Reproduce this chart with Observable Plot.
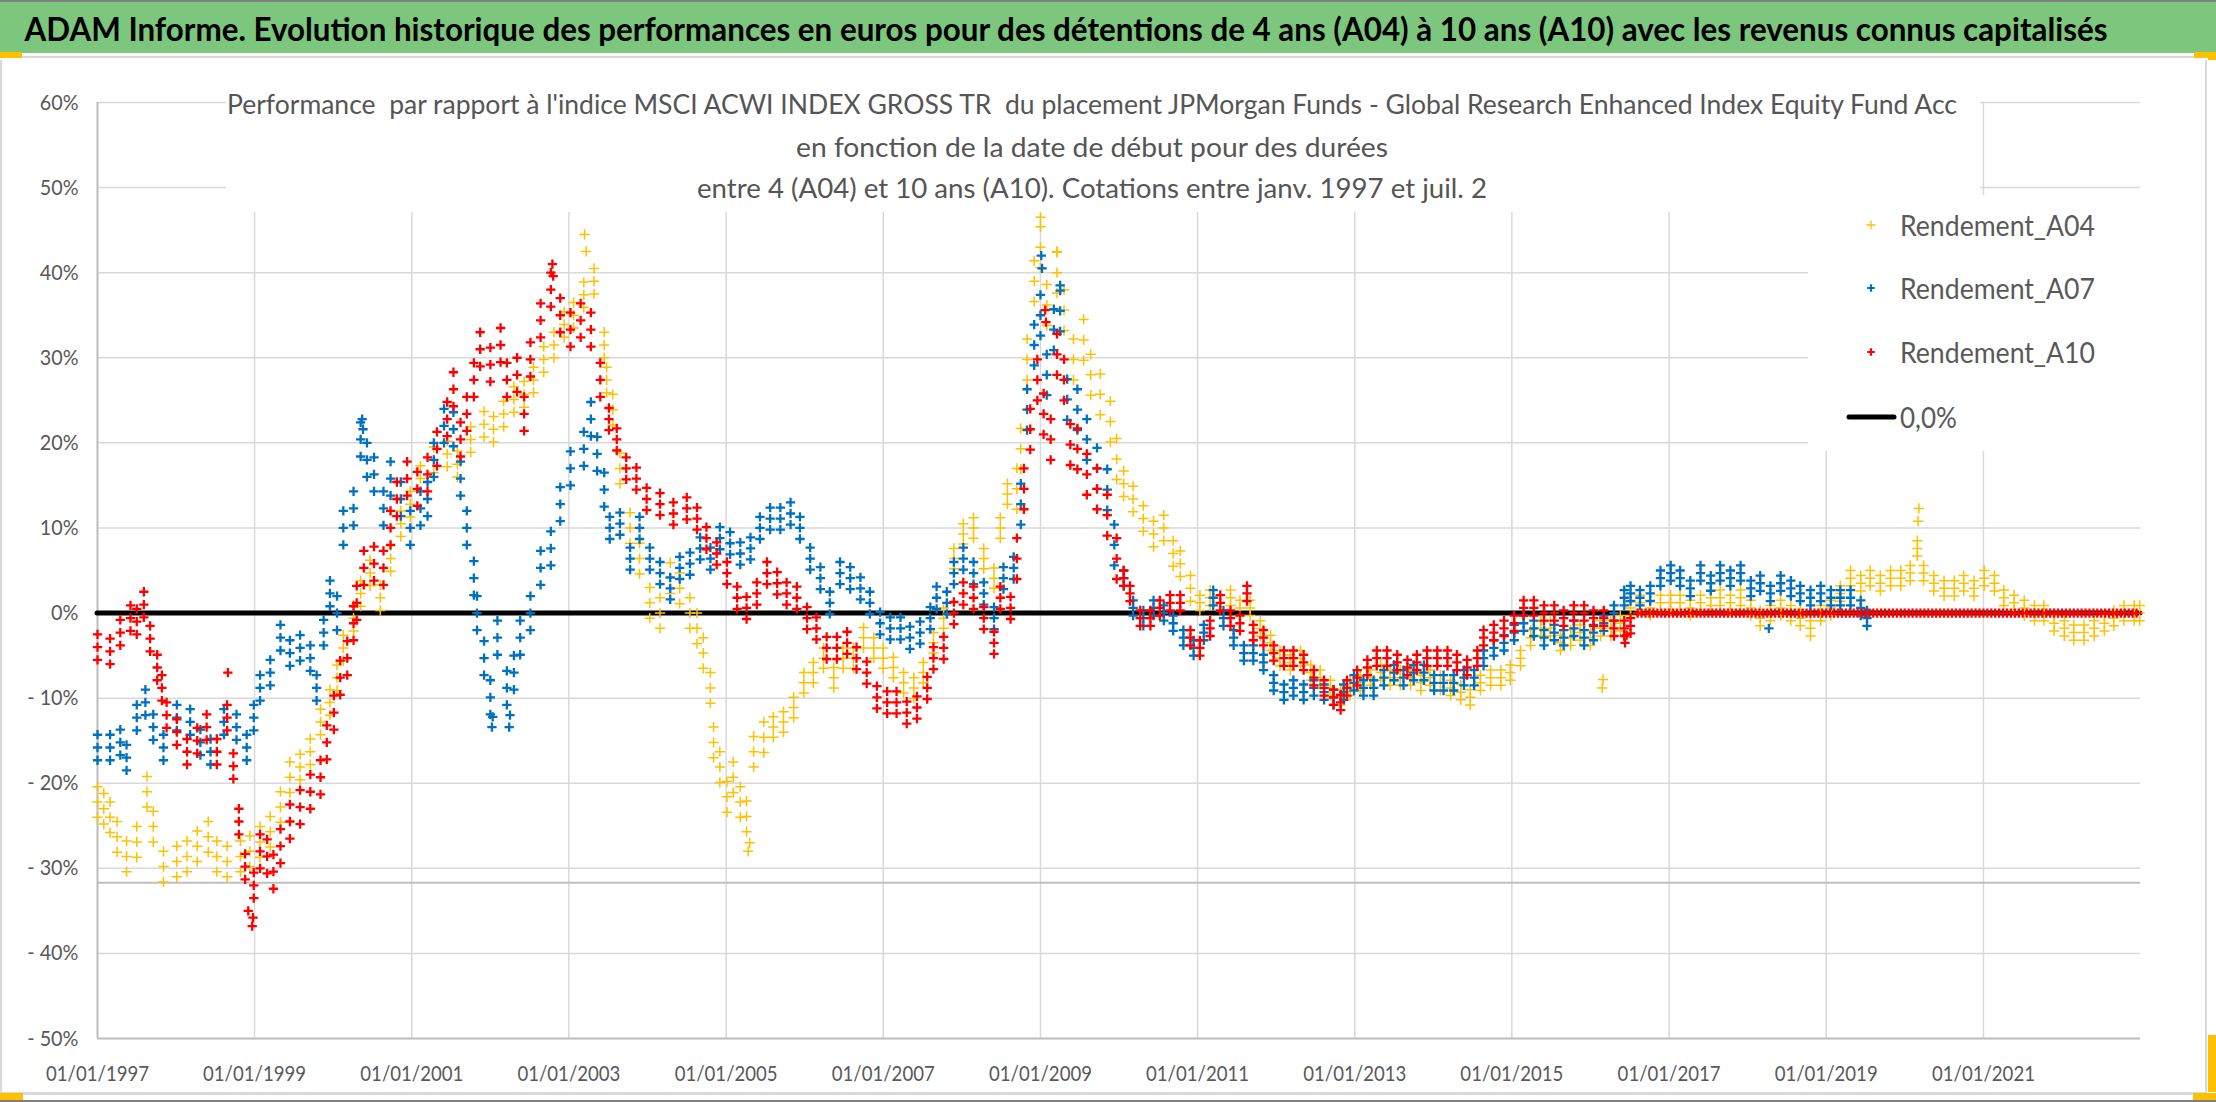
<!DOCTYPE html>
<html><head><meta charset="utf-8">
<script src="https://cdn.jsdelivr.net/npm/d3@7"></script>
<script src="https://cdn.jsdelivr.net/npm/@observablehq/plot@0.6"></script>
<style>
html,body{margin:0;padding:0;background:#fff;}
#page{position:relative;width:2216px;height:1102px;overflow:hidden;background:#fff;}
#page > *{position:absolute;left:0;}
</style></head><body><div id="page"></div>
<script>
// ---------- texts ----------
const titleText = "ADAM Informe. Evolution historique des performances en euros pour des détentions de 4 ans (A04) à 10 ans (A10) avec les revenus connus capitalisés";
const subtitleLines = [
  "Performance  par rapport à l'indice MSCI ACWI INDEX GROSS TR  du placement JPMorgan Funds - Global Research Enhanced Index Equity Fund Acc",
  "en fonction de la date de début pour des durées",
  "entre 4 (A04) et 10 ans (A10). Cotations entre janv. 1997 et juil. 2"
];
const seriesNames = ["Rendement_A04", "Rendement_A07", "Rendement_A10"];
const seriesColors = ["#FFC000", "#0070C0", "#FF0000"];
const zeroLabel = "0,0%";

// ---------- axes ----------
const xDomainYears = [1997, 2023];
const xTickYears = [1997, 1999, 2001, 2003, 2005, 2007, 2009, 2011, 2013, 2015, 2017, 2019, 2021];
const yTicks = [-0.5, -0.4, -0.3, -0.2, -0.1, 0, 0.1, 0.2, 0.3, 0.4, 0.5, 0.6];
const zeroLine = [0];
const extraAxisLines = [-0.5, -0.317];

// ---------- data: [decimal year, performance %] (centre of the daily cloud) ----------
const a04 = [
[1997.00,-22.2],[1997.08,-23.0],[1997.16,-24.0],[1997.25,-26.3],[1997.37,-28.6],[1997.50,-26.9],[1997.63,-21.0],[1997.71,-25.1],[1997.84,-29.8],
[1998.01,-29.2],[1998.14,-28.6],[1998.27,-27.4],[1998.41,-26.3],[1998.52,-28.6],[1998.65,-29.2],[1998.82,-28.6],[1998.94,-28.0],
[1999.07,-26.9],[1999.20,-25.7],[1999.33,-22.8],[1999.45,-19.3],[1999.58,-18.1],[1999.71,-16.3],[1999.84,-12.8],[1999.96,-10.5],
[2000.05,-7.6],[2000.13,-4.1],[2000.26,-0.6],[2000.35,2.3],[2000.47,4.7],[2000.60,1.8],[2000.73,6.4],[2000.86,10.5],[2000.98,12.8],
[2001.11,15.8],[2001.28,18.0],[2001.45,18.7],[2001.58,17.5],[2001.75,20.4],[2001.92,22.2],
[2002.04,21.6],[2002.17,23.4],[2002.30,25.1],[2002.43,25.7],[2002.55,27.4],[2002.68,29.8],[2002.81,31.5],[2002.94,33.9],
[2003.06,35.0],[2003.19,37.4],[2003.32,39.0],[2003.45,31.5],[2003.48,27.4],[2003.56,23.9],[2003.65,17.0],[2003.78,10.0],[2003.90,6.4],
[2004.03,1.2],[2004.16,0.0],[2004.29,4.1],[2004.41,2.9],[2004.54,0.0],[2004.63,-1.8],[2004.71,-4.7],[2004.80,-8.8],[2004.84,-15.2],[2004.92,-18.1],
[2005.01,-21.6],[2005.09,-19.3],[2005.18,-22.2],[2005.26,-23.9],[2005.35,-16.3],[2005.48,-14.6],[2005.60,-13.4],[2005.73,-12.8],[2005.86,-11.1],[2005.99,-8.2],
[2006.11,-7.0],[2006.24,-5.3],[2006.37,-7.6],[2006.49,-5.3],[2006.62,-5.3],[2006.75,-2.9],[2006.88,-4.1],
[2007.00,-5.3],[2007.13,-6.4],[2007.26,-8.2],[2007.39,-8.8],[2007.51,-7.0],[2007.64,-3.5],[2007.77,-0.6],[2007.90,6.4],
[2008.02,9.3],[2008.15,10.0],[2008.28,6.4],[2008.41,4.1],[2008.49,10.0],[2008.58,14.0],[2008.70,14.6],[2008.75,19.3],[2008.83,29.8],[2008.92,39.0],
[2009.00,43.0],[2009.08,36.2],[2009.21,40.0],[2009.30,35.6],[2009.42,29.8],[2009.55,32.1],[2009.64,28.0],[2009.76,25.7],[2009.89,22.5],[2009.97,18.1],
[2010.06,15.2],[2010.18,13.4],[2010.31,11.1],[2010.44,9.3],[2010.57,10.0],[2010.69,7.0],[2010.78,5.8],[2010.91,2.9],
[2011.03,1.2],[2011.16,1.8],[2011.29,1.2],[2011.42,1.8],[2011.54,0.6],[2011.67,0.6],[2011.80,-1.8],[2011.93,-3.5],
[2012.05,-5.3],[2012.18,-5.8],[2012.31,-5.3],[2012.44,-7.0],[2012.56,-7.6],[2012.69,-8.8],[2012.82,-9.9],[2012.94,-8.8],
[2013.07,-8.2],[2013.20,-7.6],[2013.33,-7.0],[2013.45,-7.6],[2013.58,-7.6],[2013.71,-7.6],[2013.84,-8.2],[2013.96,-7.6],
[2014.09,-8.2],[2014.22,-8.8],[2014.35,-9.3],[2014.47,-9.9],[2014.60,-8.2],[2014.73,-7.6],[2014.86,-7.6],[2014.98,-7.0],
[2015.11,-5.3],[2015.24,-2.9],[2015.37,-1.8],[2015.49,-1.8],[2015.62,-3.5],[2015.75,-2.9],[2015.87,-2.3],
[2016.00,-2.9],[2016.13,-1.8],[2016.26,-1.8],[2016.38,-1.2],[2016.51,0.6],[2016.63,1.2],[2016.76,0.6],[2016.89,1.2],
[2017.02,1.2],[2017.14,1.2],[2017.27,0.6],[2017.40,1.2],[2017.53,1.8],[2017.65,1.8],[2017.78,1.2],[2017.91,1.8],
[2018.04,0.6],[2018.16,-0.6],[2018.29,0.0],[2018.42,0.6],[2018.55,0.0],[2018.67,-0.6],[2018.80,-1.8],[2018.93,0.0],
[2019.06,0.6],[2019.18,2.3],[2019.31,4.1],[2019.44,3.5],[2019.56,4.1],[2019.69,3.5],[2019.82,4.1],[2019.95,4.1],
[2020.07,4.7],[2020.16,7.6],[2020.24,4.7],[2020.37,3.5],[2020.50,2.9],[2020.63,2.9],[2020.75,3.5],[2020.88,2.9],
[2021.01,4.1],[2021.14,3.5],[2021.26,1.8],[2021.39,1.2],[2021.52,0.6],[2021.65,0.0],[2021.77,0.0],[2021.90,-1.2],
[2022.03,-1.8],[2022.15,-2.3],[2022.28,-2.3],[2022.41,-1.8],[2022.54,-1.2],[2022.66,-0.6],[2022.79,0.0],[2022.92,0.0],[2022.99,0.0]
];
// isolated outlying days (single markers)
const a04Spikes = [[2003.20,44.5],[2003.22,42.5],[2005.28,-28.0],[2005.30,-27.0],[2009.00,46.5],[2009.21,42.5],[2016.15,-8.8],[2016.16,-7.8],[2020.18,12.3],[2020.17,10.8]];
const a07 = [
[1997.00,-15.8],[1997.16,-15.8],[1997.29,-15.2],[1997.37,-17.0],[1997.50,-12.3],[1997.61,-10.5],[1997.71,-13.4],[1997.84,-15.8],
[1998.01,-12.3],[1998.18,-12.8],[1998.31,-15.2],[1998.44,-16.3],[1998.61,-12.8],[1998.77,-13.4],[1998.90,-15.8],[1998.99,-12.3],
[1999.07,-8.8],[1999.20,-7.0],[1999.33,-2.9],[1999.45,-4.7],[1999.58,-4.1],[1999.71,-5.3],[1999.79,-8.8],[1999.88,-2.3],[1999.96,2.3],
[2000.05,0.0],[2000.13,10.0],[2000.26,12.3],[2000.35,20.4],[2000.43,18.0],[2000.52,16.3],[2000.64,12.3],[2000.73,15.8],[2000.86,13.4],[2000.98,10.0],
[2001.11,12.3],[2001.20,13.4],[2001.28,18.0],[2001.41,22.0],[2001.53,21.6],[2001.62,15.8],[2001.70,10.0],[2001.79,4.1],[2001.83,0.0],[2001.92,-5.3],
[2002.00,-9.9],[2002.09,-2.9],[2002.21,-8.8],[2002.30,-7.0],[2002.38,-2.9],[2002.51,0.0],[2002.64,5.3],[2002.77,7.6],[2002.89,12.8],
[2003.02,17.0],[2003.19,19.3],[2003.28,22.8],[2003.36,18.7],[2003.45,14.5],[2003.52,10.0],[2003.65,10.5],[2003.78,6.4],[2003.90,10.0],
[2004.03,6.4],[2004.16,4.7],[2004.29,2.9],[2004.41,5.3],[2004.54,5.8],[2004.67,7.6],[2004.80,6.4],[2004.92,8.8],
[2005.05,8.2],[2005.18,7.0],[2005.31,7.6],[2005.43,10.0],[2005.56,11.1],[2005.69,11.1],[2005.82,11.7],[2005.94,10.0],
[2006.07,6.4],[2006.20,4.1],[2006.32,1.2],[2006.45,4.7],[2006.58,4.1],[2006.71,2.9],[2006.83,1.2],[2006.96,-1.2],
[2007.09,-1.8],[2007.22,-1.8],[2007.34,-2.9],[2007.47,-2.3],[2007.60,-0.6],[2007.68,1.8],[2007.81,1.2],[2007.90,4.7],
[2008.02,6.4],[2008.15,4.7],[2008.28,2.3],[2008.41,-0.6],[2008.53,4.1],[2008.66,5.3],[2008.75,12.8],[2008.83,23.9],[2008.92,31.5],
[2009.00,35.0],[2009.08,28.0],[2009.17,33.3],[2009.25,35.5],[2009.34,25.1],[2009.47,23.9],[2009.59,20.4],[2009.72,17.0],[2009.85,14.5],[2009.94,8.0],
[2010.06,4.1],[2010.18,0.6],[2010.31,-0.6],[2010.44,0.6],[2010.57,0.0],[2010.69,-1.2],[2010.82,-2.9],[2010.95,-4.1],
[2011.08,-2.3],[2011.20,1.8],[2011.33,-0.6],[2011.46,-2.9],[2011.59,-4.7],[2011.71,-4.7],[2011.84,-5.8],[2011.97,-8.2],
[2012.10,-9.3],[2012.22,-8.8],[2012.35,-9.3],[2012.48,-8.8],[2012.61,-9.3],[2012.73,-9.9],[2012.86,-9.3],[2012.99,-8.2],
[2013.11,-8.8],[2013.24,-8.8],[2013.37,-7.6],[2013.50,-7.0],[2013.62,-7.6],[2013.75,-7.0],[2013.88,-7.0],
[2014.01,-8.2],[2014.13,-8.2],[2014.26,-8.2],[2014.39,-7.6],[2014.52,-7.6],[2014.64,-5.3],[2014.77,-4.1],[2014.90,-3.5],
[2015.03,-2.3],[2015.15,-1.2],[2015.28,-1.8],[2015.41,-2.9],[2015.54,-2.3],[2015.66,-2.9],[2015.79,-1.8],[2015.92,-2.9],
[2016.04,-2.3],[2016.17,-1.2],[2016.30,0.0],[2016.43,1.8],[2016.51,2.3],[2016.63,1.8],[2016.76,2.3],[2016.89,4.1],
[2017.02,4.7],[2017.14,4.1],[2017.27,2.9],[2017.40,4.7],[2017.53,3.5],[2017.65,4.7],[2017.78,4.1],[2017.91,4.7],
[2018.04,2.9],[2018.16,3.5],[2018.29,2.3],[2018.42,3.5],[2018.55,2.9],[2018.67,2.3],[2018.80,1.8],[2018.93,2.3],
[2019.06,1.8],[2019.18,1.8],[2019.31,1.8],[2019.44,0.6],[2019.52,-0.6]
];
const a07Spikes = [[2000.37,22.8],[2000.38,21.6],[2002.02,-13.4],[2002.03,-12.2],[2002.24,-13.4],[2002.25,-12.0],[2009.01,42.0],[2009.02,40.5],[2009.25,38.5],[2018.27,-1.8]];
const a10 = [
[1997.00,-4.0],[1997.16,-4.5],[1997.29,-2.3],[1997.42,-0.6],[1997.50,-1.0],[1997.59,1.0],[1997.67,-3.0],[1997.76,-6.4],[1997.82,-8.8],[1997.88,-12.0],
[1998.01,-14.0],[1998.14,-16.3],[1998.27,-15.0],[1998.39,-13.4],[1998.52,-16.3],[1998.65,-12.3],[1998.73,-18.0],[1998.80,-24.5],[1998.88,-29.8],[1998.99,-32.0],
[1999.07,-28.0],[1999.16,-28.6],[1999.24,-30.4],[1999.33,-27.4],[1999.45,-24.5],[1999.58,-22.8],[1999.71,-21.0],[1999.84,-19.3],[1999.92,-15.2],
[2000.01,-11.7],[2000.09,-7.6],[2000.18,-5.3],[2000.26,-1.2],[2000.30,1.2],[2000.39,5.3],[2000.52,5.8],[2000.64,5.3],[2000.73,10.0],[2000.81,13.4],[2000.94,15.8],
[2001.07,14.6],[2001.20,16.3],[2001.32,19.3],[2001.45,22.8],[2001.53,26.3],[2001.62,20.4],[2001.70,23.4],[2001.79,27.4],[2001.87,31.0],
[2002.00,29.2],[2002.13,31.5],[2002.21,27.4],[2002.34,28.0],[2002.43,23.4],[2002.51,29.8],[2002.64,34.4],[2002.77,38.0],[2002.89,35.0],
[2003.02,33.3],[2003.15,34.4],[2003.28,33.3],[2003.40,27.4],[2003.51,22.8],[2003.61,20.4],[2003.73,17.0],[2003.86,15.8],[2003.99,13.4],
[2004.16,12.8],[2004.33,11.7],[2004.50,12.3],[2004.63,11.1],[2004.75,8.8],[2004.88,7.0],
[2005.01,4.7],[2005.14,1.8],[2005.26,0.6],[2005.39,2.3],[2005.52,4.7],[2005.65,3.5],[2005.77,2.3],[2005.90,1.8],
[2006.03,-0.6],[2006.15,-1.8],[2006.28,-4.1],[2006.41,-4.1],[2006.54,-3.5],[2006.66,-5.3],[2006.79,-7.0],[2006.92,-9.9],
[2007.05,-10.5],[2007.17,-10.5],[2007.30,-11.7],[2007.43,-11.1],[2007.56,-8.8],[2007.64,-5.3],[2007.77,-4.1],[2007.90,0.0],
[2008.02,2.3],[2008.15,1.8],[2008.28,-0.6],[2008.41,-3.5],[2008.49,1.8],[2008.62,0.6],[2008.70,6.4],[2008.79,14.6],[2008.87,21.6],[2008.96,27.4],
[2009.04,23.4],[2009.13,20.4],[2009.21,30.4],[2009.30,27.4],[2009.38,19.8],[2009.47,19.3],[2009.59,16.3],[2009.72,14.6],[2009.85,11.5],[2009.97,6.4],
[2010.06,4.1],[2010.14,2.3],[2010.27,-0.6],[2010.40,-0.6],[2010.52,0.6],[2010.65,1.2],[2010.78,1.2],[2010.91,-2.9],
[2011.03,-4.1],[2011.16,-1.8],[2011.29,1.2],[2011.42,-0.6],[2011.54,-1.2],[2011.63,2.3],[2011.71,-2.3],[2011.84,-2.9],[2011.97,-4.7],
[2012.10,-5.3],[2012.22,-5.3],[2012.35,-5.8],[2012.48,-7.6],[2012.61,-8.8],[2012.73,-9.9],[2012.82,-10.5],[2012.90,-8.8],
[2013.03,-7.6],[2013.16,-6.4],[2013.28,-5.3],[2013.41,-5.3],[2013.54,-5.8],[2013.67,-6.4],[2013.79,-5.8],[2013.92,-5.3],
[2014.05,-5.3],[2014.18,-5.3],[2014.30,-5.8],[2014.43,-6.4],[2014.56,-5.3],[2014.64,-2.9],[2014.77,-2.3],[2014.90,-1.8],
[2015.03,-1.2],[2015.15,0.6],[2015.28,0.6],[2015.41,0.0],[2015.54,0.0],[2015.66,-0.6],[2015.79,0.0],[2015.92,0.0],
[2016.04,-0.6],[2016.17,-0.6],[2016.30,-1.8],[2016.43,-1.8],[2016.51,-1.5]
];
const a10Spikes = [[1998.92,-35.0],[1998.97,-36.8],[1998.98,-35.8],[2002.79,41.0],[2002.80,39.6],[2009.06,35.6],[2009.07,34.2],[2016.44,-3.5],[2016.46,-2.6],[1998.66,-7.0]];
// A10 reads exactly 0 from mid-2016 to the end of the period
const a10ZeroDates = [
2016.60,2016.65,2016.70,2016.75,2016.80,2016.85,2016.90,2016.95,
2017.00,2017.05,2017.10,2017.15,2017.20,2017.25,2017.30,2017.35,2017.40,2017.45,2017.50,2017.55,2017.60,2017.65,2017.70,2017.75,2017.80,2017.85,2017.90,2017.95,
2018.00,2018.05,2018.10,2018.15,2018.20,2018.25,2018.30,2018.35,2018.40,2018.45,2018.50,2018.55,2018.60,2018.65,2018.70,2018.75,2018.80,2018.85,2018.90,2018.95,
2019.00,2019.05,2019.10,2019.15,2019.20,2019.25,2019.30,2019.35,2019.40,2019.45,2019.50,2019.55,2019.60,2019.65,2019.70,2019.75,2019.80,2019.85,2019.90,2019.95,
2020.00,2020.05,2020.10,2020.15,2020.20,2020.25,2020.30,2020.35,2020.40,2020.45,2020.50,2020.55,2020.60,2020.65,2020.70,2020.75,2020.80,2020.85,2020.90,2020.95,
2021.00,2021.05,2021.10,2021.15,2021.20,2021.25,2021.30,2021.35,2021.40,2021.45,2021.50,2021.55,2021.60,2021.65,2021.70,2021.75,2021.80,2021.85,2021.90,2021.95,
2022.00,2022.05,2022.10,2022.15,2022.20,2022.25,2022.30,2022.35,2022.40,2022.45,2022.50,2022.55,2022.60,2022.65,2022.70,2022.75,2022.80,2022.85,2022.90,2022.95
];
// half-thickness (in %) of each daily cloud per period: [from, to, half-width]
const a04Cloud = [[1997.0,1999.5,1.8],[1999.5,2003.5,1.5],[2003.5,2005.5,1.8],[2005.5,2008.7,1.2],[2008.7,2010.0,2.4],[2010.0,2011.0,1.5],[2011.0,2023.1,0.9]];
const a07Cloud = [[1997.0,2000.0,1.5],[2000.0,2003.5,2.0],[2003.5,2008.7,1.3],[2008.7,2010.0,2.4],[2010.0,2016.5,0.9],[2016.5,2019.6,0.9]];
const a10Cloud = [[1997.0,1999.0,1.5],[1999.0,2003.5,2.0],[2003.5,2008.7,1.3],[2008.7,2010.0,2.4],[2010.0,2016.55,0.9]];

// ---------- helpers ----------
function toDate(dy) {
  const y = Math.floor(dy);
  const s = Date.UTC(y, 0, 1), e = Date.UTC(y + 1, 0, 1);
  return new Date(s + (dy - y) * (e - s));
}
function cloudAt(cloud, t) { const c = cloud.find(([a, b]) => t >= a && t < b); return c ? c[2] : 0; }
// each reading is drawn at its centre and at the upper / lower edge of its cloud
function toRows(arr, cloud, spikes, name) {
  const rows = [];
  for (const [t, v] of arr) {
    const w = cloudAt(cloud, t);
    rows.push({date: toDate(t), value: v / 100, series: name});
    if (w > 0) {
      rows.push({date: toDate(t), value: (v + w) / 100, series: name});
      rows.push({date: toDate(t), value: (v - w) / 100, series: name});
    }
  }
  for (const [t, v] of spikes) rows.push({date: toDate(t), value: v / 100, series: name});
  return rows;
}
const rowsA04 = toRows(a04, a04Cloud, a04Spikes, seriesNames[0]);
const rowsA07 = toRows(a07, a07Cloud, a07Spikes, seriesNames[1]);
const rowsA10 = toRows(a10, a10Cloud, a10Spikes, seriesNames[2]).concat(a10ZeroDates.map(t => ({date: toDate(t), value: 0, series: seriesNames[2]})));
const xTickDates = xTickYears.map(y => toDate(y));
const fmtPct = v => { const p = Math.round(v * 100); return p < 0 ? `- ${-p}%` : `${p}%`; };
const FONT = "Lato, 'Open Sans', 'DejaVu Sans', sans-serif";
const GRAY_TEXT = "#595959";

const page = document.getElementById("page");

// ---------- header (title band) ----------
const header = d3.create("svg").attr("width", 2216).attr("height", 60).style("top", "0px");
header.append("rect").attr("x", 0).attr("y", 0).attr("width", 2216).attr("height", 2).attr("fill", "#7f7f7f");
header.append("rect").attr("x", 0).attr("y", 2).attr("width", 2216).attr("height", 51).attr("fill", "#7CC67D");
header.append("text").text(titleText)
  .attr("x", 1066).attr("y", 28).attr("text-anchor", "middle").attr("dominant-baseline", "central")
  .attr("font-family", FONT).attr("font-weight", "bold").attr("font-size", 32).attr("fill", "#000")
  .attr("textLength", 2083).attr("lengthAdjust", "spacingAndGlyphs");
header.append("rect").attr("x", 0).attr("y", 56).attr("width", 2216).attr("height", 2).attr("fill", "#d9d9d9");
header.append("rect").attr("x", 0).attr("y", 52).attr("width", 22).attr("height", 6).attr("fill", "#FFC000");
header.append("rect").attr("x", 2194).attr("y", 52).attr("width", 22).attr("height", 6).attr("fill", "#FFC000");
header.append("rect").attr("x", 2208).attr("y", 52).attr("width", 8).attr("height", 8).attr("fill", "#FFC000");
page.appendChild(header.node());

// ---------- chart ----------
const plusOpts = (color, sw, r) => ({x: "date", y: "value", symbol: "plus", stroke: color, strokeWidth: sw, r});
const chart = Plot.plot({
  width: 2216, height: 1032,
  marginLeft: 97, marginRight: 76, marginTop: 42, marginBottom: 54,
  style: {fontFamily: FONT, fontSize: "22px", color: GRAY_TEXT, background: "white", overflow: "visible"},
  x: {type: "utc", domain: xDomainYears.map(toDate)},
  y: {domain: [-0.5, 0.6]},
  marks: [
    Plot.gridY(yTicks, {stroke: "#d9d9d9", strokeOpacity: 1, strokeWidth: 1.5}),
    Plot.gridX(xTickDates, {stroke: "#d9d9d9", strokeOpacity: 1, strokeWidth: 1.5}),
    Plot.ruleY(extraAxisLines, {stroke: "#bfbfbf", strokeWidth: 2}),
    Plot.ruleX([xTickDates[0]], {stroke: "#bfbfbf", strokeWidth: 2}),
    Plot.axisX(xTickDates, {tickFormat: d3.utcFormat("%d/%m/%Y"), tickSize: 0, tickPadding: 27, label: null}),
    Plot.axisY(yTicks, {tickFormat: fmtPct, tickSize: 0, tickPadding: 19, label: null}),
    Plot.ruleY(zeroLine, {stroke: "#000", strokeWidth: 5, strokeLinecap: "round"}),
    Plot.dot(rowsA04, plusOpts(seriesColors[0], 1.5, 3.4)),
    Plot.dot(rowsA07, plusOpts(seriesColors[1], 2.3, 3.1)),
    Plot.dot(rowsA10, plusOpts(seriesColors[2], 2.3, 3.1))
  ]
});
chart.style.top = "60px";
page.appendChild(chart);

const svg = d3.select(chart);
// condense tick labels (narrow Calibri-like look)
svg.selectAll('g[aria-label="x-axis tick label"] text').attr("textLength", 103).attr("lengthAdjust", "spacingAndGlyphs");
svg.selectAll('g[aria-label="y-axis tick label"] text').each(function() {
  const w = this.getComputedTextLength();
  d3.select(this).attr("textLength", (w * 0.9).toFixed(1)).attr("lengthAdjust", "spacingAndGlyphs");
});

// ---------- chart title box (inside plot area) ----------
const OY = 60; // page y offset of the chart svg
const ov = svg.append("g").attr("text-anchor", "middle");
ov.append("rect").attr("x", 226).attr("y", 92 - OY).attr("width", 1754).attr("height", 212 - 92).attr("fill", "white");
const subW = [1730, 592, 790];
const subY = [104, 147, 188];
subtitleLines.forEach((s, i) => {
  ov.append("text").text(s)
    .attr("x", 1092).attr("y", subY[i] - OY).attr("text-anchor", "middle").attr("dominant-baseline", "central")
    .attr("font-family", FONT).attr("font-size", 26).attr("fill", "#555555")
    .attr("textLength", subW[i]).attr("lengthAdjust", "spacingAndGlyphs")
    .style("white-space", "pre");
});

// ---------- legend ----------
const lg = svg.append("g").attr("text-anchor", "start");
lg.append("rect").attr("x", 1808).attr("y", 195 - OY).attr("width", 340).attr("height", 451 - 195).attr("fill", "white");
const legY = [225, 288, 352];
seriesNames.forEach((n, i) => {
  const a = i === 0 ? 4.5 : 3.8;
  lg.append("path").attr("d", `M${-a},0H${a}M0,${-a}V${a}`)
    .attr("transform", `translate(1871,${legY[i] - OY})`)
    .attr("stroke", seriesColors[i]).attr("stroke-width", i === 0 ? 1.3 : 2.2).attr("fill", "none");
  lg.append("text").text(n)
    .attr("x", 1900).attr("y", legY[i] - OY).attr("text-anchor", "start").attr("dominant-baseline", "central")
    .attr("font-family", FONT).attr("font-size", 28).attr("fill", GRAY_TEXT)
    .attr("textLength", 195).attr("lengthAdjust", "spacingAndGlyphs");
});
lg.append("line").attr("x1", 1849).attr("x2", 1894).attr("y1", 417 - OY).attr("y2", 417 - OY)
  .attr("stroke", "#000").attr("stroke-width", 5).attr("stroke-linecap", "round");
lg.append("text").text(zeroLabel)
  .attr("x", 1900).attr("y", 417 - OY).attr("text-anchor", "start").attr("dominant-baseline", "central")
  .attr("font-family", FONT).attr("font-size", 28).attr("fill", GRAY_TEXT)
  .attr("textLength", 57).attr("lengthAdjust", "spacingAndGlyphs");

// frame borders / selection marks
svg.append("rect").attr("x", 0).attr("y", 0).attr("width", 2).attr("height", 1032).attr("fill", "#d9d9d9");
svg.append("rect").attr("x", 2205).attr("y", 0).attr("width", 2).attr("height", 1032).attr("fill", "#d9d9d9");
svg.append("rect").attr("x", 2208).attr("y", 975).attr("width", 8).attr("height", 57).attr("fill", "#FFC000");

// ---------- footer ----------
const footer = d3.create("svg").attr("width", 2216).attr("height", 10).style("top", "1092px");
footer.append("rect").attr("x", 0).attr("y", 0).attr("width", 2207).attr("height", 3).attr("fill", "#d9d9d9");
footer.append("rect").attr("x", 0).attr("y", 8).attr("width", 2216).attr("height", 2).attr("fill", "#7f7f7f");
footer.append("rect").attr("x", 0).attr("y", 1).attr("width", 23).attr("height", 7).attr("fill", "#FFC000");
footer.append("rect").attr("x", 2193).attr("y", 1).attr("width", 23).attr("height", 7).attr("fill", "#FFC000");
page.appendChild(footer.node());
</script>
</body></html>
